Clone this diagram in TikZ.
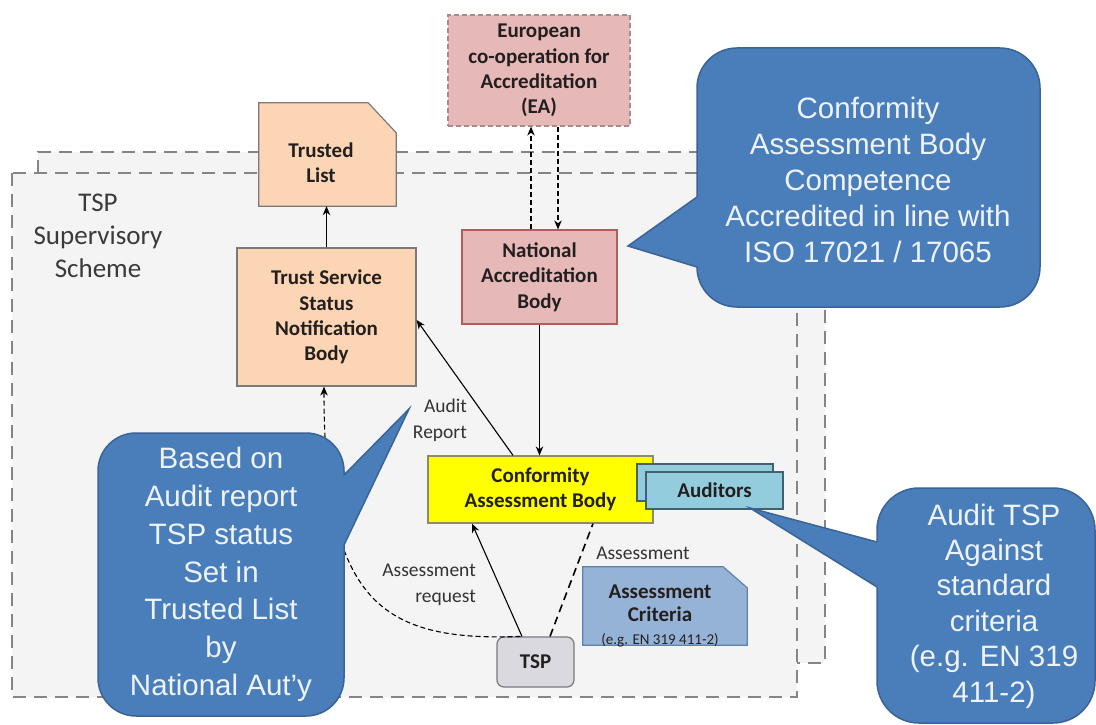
\documentclass[tikz,border=0pt]{standalone}
\usepackage{fontspec}
\setmainfont{Carlito}
\newfontfamily\calloutfont{Liberation Sans}
\usetikzlibrary{arrows.meta}

\definecolor{frameGray}{HTML}{858585}
\definecolor{schemeFill}{HTML}{F4F4F4}
\definecolor{schemeText}{HTML}{3A3A3A}
\definecolor{pinkFill}{HTML}{E6B9B8}
\definecolor{eaLine}{HTML}{A88A8A}
\definecolor{nabLine}{HTML}{B0605C}
\definecolor{peachFill}{HTML}{FCD5B5}
\definecolor{boxLine}{HTML}{7A7A7A}
\definecolor{boxText}{HTML}{231F1F}
\definecolor{cabFill}{HTML}{FFFF00}
\definecolor{cabLine}{HTML}{8C8C6A}
\definecolor{audFill}{HTML}{93CDDD}
\definecolor{audLine}{HTML}{44606E}
\definecolor{critFill}{HTML}{95B3D7}
\definecolor{critLine}{HTML}{6182AA}
\definecolor{tspFill}{HTML}{D9D9DF}
\definecolor{labelText}{HTML}{333333}
\definecolor{calloutFill}{HTML}{4A7EBB}
\definecolor{calloutLine}{HTML}{3A6397}
\definecolor{calloutText}{HTML}{EEF3FA}

\begin{document}
\begin{tikzpicture}[x=1pt,y=-1pt,
  frame/.style={draw=frameGray, line width=2pt, dash pattern=on 13pt off 8pt},
  box/.style={draw=boxLine, line width=1.2pt, align=center, inner sep=0pt,
    text=boxText, font=\bfseries\fontsize{21}{25.3}\selectfont},
  lbl/.style={text=labelText, inner sep=0pt, font=\fontsize{19.5}{26}\selectfont},
  arr/.style={line width=1.1pt, -{Stealth[length=9pt,width=7.5pt]}},
  dashline/.style={dash pattern=on 5pt off 3pt},
  callout/.style={draw=calloutLine, fill=calloutFill, line width=1.5pt,
    rounded corners=40pt, inner sep=0pt},
  callouttext/.style={text=calloutText, align=center, inner sep=0pt,
    font=\calloutfont\fontsize{29.5}{36}\selectfont},
  pointer/.style={draw=calloutLine, line width=1.5pt, line join=miter},
]
\useasboundingbox (0,0) rectangle (1096,725);
\fill[white] (0,0) rectangle (1096,725);

% supervisory scheme frames (back and front)
\fill[schemeFill] (38,152) rectangle (825,663);
\draw[frame] (38,173) -- (38,152) -- (825,152) -- (825,663) -- (797,663);
\draw[frame, fill=schemeFill] (12,173) rectangle (797,697);
\node[inner sep=0pt, align=center, text=schemeText,
  font=\fontsize{27}{33}\selectfont] (scheme) at (98,236) {TSP\\Supervisory\\Scheme};

% European co-operation for Accreditation
\node[box, fill=pinkFill, draw=eaLine, dashline, minimum width=182pt,
  minimum height=111pt] (ea) at (539,70.5) {European\\co-operation for\\Accreditation\\(EA)};

% National Accreditation Body
\node[box, fill=pinkFill, draw=nabLine, minimum width=155pt,
  minimum height=94pt] (nab) at (539.5,277) {National\\Accreditation\\Body};

% Trusted List (document with a cut corner)
\node[inner sep=0pt, minimum width=137pt, minimum height=103pt] (tl) at (327.5,154.5) {};
\draw[fill=peachFill, draw=boxLine, line width=1.2pt]
  (tl.south west) -- (tl.north west) -- ([xshift=-28pt]tl.north east)
  -- ([yshift=-30pt]tl.north east) -- (tl.south east) -- cycle;
\node[box, draw=none] (tltext) at (321,162.5) {Trusted\\List};

% Trust Service Status Notification Body
\node[box, fill=peachFill, minimum width=179pt, minimum height=138pt]
  (tssnb) at (326.5,317) {Trust Service\\Status\\Notification\\Body};

% Conformity Assessment Body and auditors
\node[box, fill=cabFill, draw=cabLine, minimum width=225pt, minimum height=67pt]
  (cab) at (540.5,489.5) {Conformity\\Assessment Body};
\node[box, fill=audFill, draw=audLine, minimum width=136pt, minimum height=37pt]
  (audback) at (705,482.5) {};
\node[box, fill=audFill, draw=audLine, minimum width=137pt, minimum height=37pt]
  (auditors) at (714.5,490.5) {Auditors};

% Assessment criteria (document with a cut corner)
\node[inner sep=0pt, minimum width=164pt, minimum height=78pt] (crit) at (665,606) {};
\draw[fill=critFill, draw=critLine, line width=1.2pt]
  (crit.south west) -- (crit.north west) -- ([xshift=-24pt]crit.north east)
  -- ([yshift=-21pt]crit.north east) -- (crit.south east) -- cycle;
\node[box, draw=none, font=\bfseries\fontsize{21}{23}\selectfont]
  (crittext) at (660,603.5) {Assessment\\Criteria};
\node[box, draw=none, font=\fontsize{15}{17}\selectfont]
  (critnote) at (660,640) {(e.g. EN 319 411-2)};

% Trust Service Provider
\node[box, fill=tspFill, rounded corners=7pt, minimum width=77pt, minimum height=50pt]
  (tsp) at (535.5,662) {TSP};

% connectors
\draw[arr] (tssnb.north) -- (tssnb.north |- tl.south);
\draw[arr, dashline] ([xshift=-8.5pt]nab.north) -- ([xshift=-8.5pt]nab.north |- ea.south);
\draw[arr, dashline] ([xshift=19pt]ea.south) -- ([xshift=19pt]ea.south |- nab.north);
\draw[arr] (nab.south) -- (nab.south |- cab.north);
\draw[arr] ([xshift=-27.5pt]cab.north) -- ([yshift=-3pt]tssnb.east);
\draw[arr] ([xshift=-13.5pt]tsp.north) -- ([xshift=-68.5pt]cab.south);
\draw[line width=1.6pt, dash pattern=on 8pt off 5pt]
  ([xshift=14.5pt]tsp.north) -- ([xshift=52.5pt]cab.south);
\draw[arr, dashline] ([xshift=-15pt]tsp.north) .. controls (380,642) and (324,600) .. ([xshift=-2.5pt]tssnb.south);

% connector labels
\node[lbl, align=right, anchor=east] (auditlbl) at (467,420.5) {Audit\\Report};
\node[lbl, align=right, anchor=east] (reqlbl) at (476,585) {Assessment\\request};
\node[lbl] (assesslbl) at (643,553) {Assessment};

% callout: accreditation of the assessment body
\node[callout, minimum width=343pt, minimum height=259pt] (noteacc) at (868.5,177.5) {};
\fill[calloutFill] (628,246) -- (697,197) -- (701,199) -- (701,265) -- (697,267) -- cycle;
\draw[pointer] (697,197) -- (628,246) -- (697,267);
\node[callouttext] (noteacctext) at (868,180)
  {Conformity\\Assessment Body\\Competence\\Accredited in line with\\ISO 17021 / 17065};

% callout: status set in the trusted list
\node[callout, rounded corners=38pt, minimum width=246pt, minimum height=283pt]
  (notestatus) at (221,574.5) {};
\fill[calloutFill] (409,409) -- (344,475) -- (340,477) -- (340,543) -- (344,545) -- cycle;
\draw[pointer] (344,475) -- (409,409) -- (344,545);
\node[callouttext, font=\calloutfont\fontsize{29.5}{37.8}\selectfont] (notestatustext) at (221,574.5)
  {Based on\\Audit report\\TSP status\\Set in\\Trusted List\\by\\National Aut’y};

% callout: audit against standard criteria
\node[callout, rounded corners=42pt, minimum width=218pt, minimum height=235pt]
  (noteaudit) at (986,605.5) {};
\fill[calloutFill] (750,508) -- (877,542) -- (881,544) -- (881,585) -- (877,587) -- cycle;
\draw[pointer] (877,542) -- (750,508) -- (877,587);
\node[callouttext, font=\calloutfont\fontsize{29.5}{35.4}\selectfont] (noteaudittext) at (994,606)
  {Audit TSP\\Against\\standard\\criteria\\(e.g. EN 319\\411-2)};
\end{tikzpicture}
\end{document}
